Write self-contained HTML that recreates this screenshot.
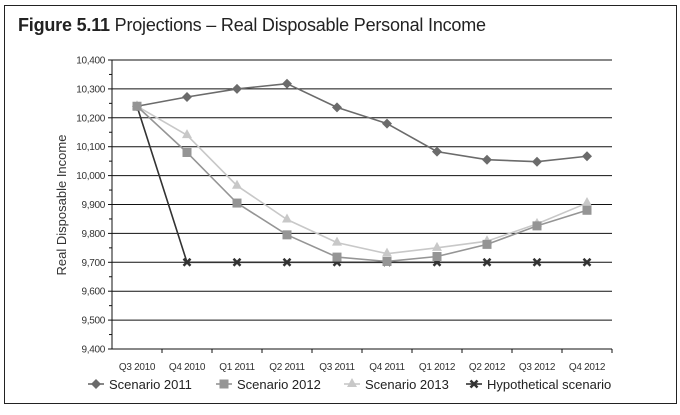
<!DOCTYPE html>
<html><head><meta charset="utf-8"><style>
body{margin:0;background:#fff;}
svg text{font-family:"Liberation Sans",sans-serif;}
</style></head><body>
<svg width="680" height="410" xmlns="http://www.w3.org/2000/svg">
<rect x="4.5" y="5.5" width="672" height="398" fill="#fff" stroke="#222" stroke-width="1"/>
<text x="18" y="31" font-size="18" fill="#222" letter-spacing="-0.2"><tspan font-weight="bold">Figure 5.11</tspan>  Projections – Real Disposable Personal Income</text>
<text transform="translate(66,205) rotate(-90)" text-anchor="middle" font-size="13" fill="#333">Real Disposable Income</text>
<g id="grid"></g><g id="axes"></g><g id="series"></g><g id="legend"></g>
</svg>
<script>
const categories=["Q3 2010","Q4 2010","Q1 2011","Q2 2011","Q3 2011","Q4 2011","Q1 2012","Q2 2012","Q3 2012","Q4 2012"];
const s2011=[10240,10272,10300,10318,10236,10180,10083,10055,10048,10067];
const s2012=[10240,10080,9905,9795,9718,9703,9720,9762,9826,9880];
const s2013=[10240,10140,9965,9848,9768,9730,9750,9773,9833,9905];
const hyp=[10240,9700,9700,9700,9700,9700,9700,9700,9700,9700];
const yTicks=[9400,9500,9600,9700,9800,9900,10000,10100,10200,10300,10400];
const yTickLabels=["9,400","9,500","9,600","9,700","9,800","9,900","10,000","10,100","10,200","10,300","10,400"];
const seriesNames=["Scenario 2011","Scenario 2012","Scenario 2013","Hypothetical scenario"];

const NS="http://www.w3.org/2000/svg";
const X0=112,X1=612,Y0=349,Y1=60,YMIN=9400,YMAX=10400;
const bw=(X1-X0)/categories.length;
function xs(i){return X0+bw*(i+0.5);}
function ys(v){return Y0-(v-YMIN)/(YMAX-YMIN)*(Y0-Y1);}
function mk(tag,attrs,parent){const e=document.createElementNS(NS,tag);for(const k in attrs)e.setAttribute(k,attrs[k]);parent.appendChild(e);return e;}
const grid=document.getElementById('grid'),axes=document.getElementById('axes'),ser=document.getElementById('series'),leg=document.getElementById('legend');

yTicks.forEach((v,i)=>{
  const y=ys(v);
  if(i>0){const g=mk('line',{x1:X0,x2:X1,y1:y,y2:y,stroke:'#111','stroke-width':1},grid);
  
  }
  const t=mk('line',{x1:X0-4,x2:X0,y1:y,y2:y,stroke:'#111'},axes);
  
  
  if(i<yTicks.length-1){const ym=ys(v+50);const m=mk('line',{x1:X0-3,x2:X0,y1:ym,y2:ym,stroke:'#111'},axes);
  
  }
  const l=mk('text',{x:X0-7,y:y+3.5,'text-anchor':'end','font-size':'10',fill:'#333','letter-spacing':'-0.3'},axes);l.textContent=yTickLabels[i];
  
  
});
const ya=mk('line',{x1:X0,x2:X0,y1:Y1,y2:Y0,stroke:'#111'},axes);


const xa=mk('line',{x1:X0,x2:X1,y1:Y0,y2:Y0,stroke:'#111'},axes);


categories.forEach((c,i)=>{
  const xt=X0+bw*(i+1);
  const t=mk('line',{x1:xt,x2:xt,y1:Y0,y2:Y0+4,stroke:'#111'},axes);
  
  
  const l=mk('text',{x:xs(i),y:Y0+21,'text-anchor':'middle','font-size':'10',fill:'#333','letter-spacing':'-0.3'},axes);l.textContent=c;
  
  
});
function marker(type,x,y,color,p){
  let e;
  if(type==='diamond')e=mk('path',{d:`M${x} ${y-5}L${x+5} ${y}L${x} ${y+5}L${x-5} ${y}Z`,fill:color},p);
  else if(type==='square')e=mk('rect',{x:x-4.5,y:y-4.5,width:9,height:9,fill:color},p);
  else if(type==='triangle')e=mk('path',{d:`M${x} ${y-6}L${x+5} ${y+3}L${x-5} ${y+3}Z`,fill:color},p);
  else e=mk('path',{d:`M${x-3.5} ${y-3.5}L${x+3.5} ${y+3.5}M${x+3.5} ${y-3.5}L${x-3.5} ${y+3.5}`,stroke:color,'stroke-width':2.5},p);
  return e;
}
const defs=[[s2011,'#6b6b6b','diamond'],[s2012,'#959595','square'],[s2013,'#c8c8c8','triangle'],[hyp,'#333','x']];
const drawOrder=[3,0,2,1];
drawOrder.forEach(k=>{
  const [data,color,mt]=defs[k];
  const g=mk('g',{},ser);
  
  
  const pl=mk('polyline',{points:data.map((v,i)=>xs(i)+','+ys(v)).join(' '),fill:'none',stroke:color,'stroke-width':1.6},g);
  
  
  data.forEach((v,i)=>{const m=marker(mt,xs(i),ys(v),color,g);
    
    });
});
const legX=[88,216,344,466];
seriesNames.forEach((n,k)=>{
  const [,color,mt]=defs[k];
  const g=mk('g',{},leg);
  
  
  const y=384,x=legX[k];
  mk('line',{x1:x,x2:x+16,y1:y,y2:y,stroke:color,'stroke-width':1.6},g);
  marker(mt,x+8,y,color,g);
  const t=mk('text',{x:x+21,y:y+5,'font-size':'13',fill:'#222'},g);t.textContent=n;
});
</script>
</body></html>
